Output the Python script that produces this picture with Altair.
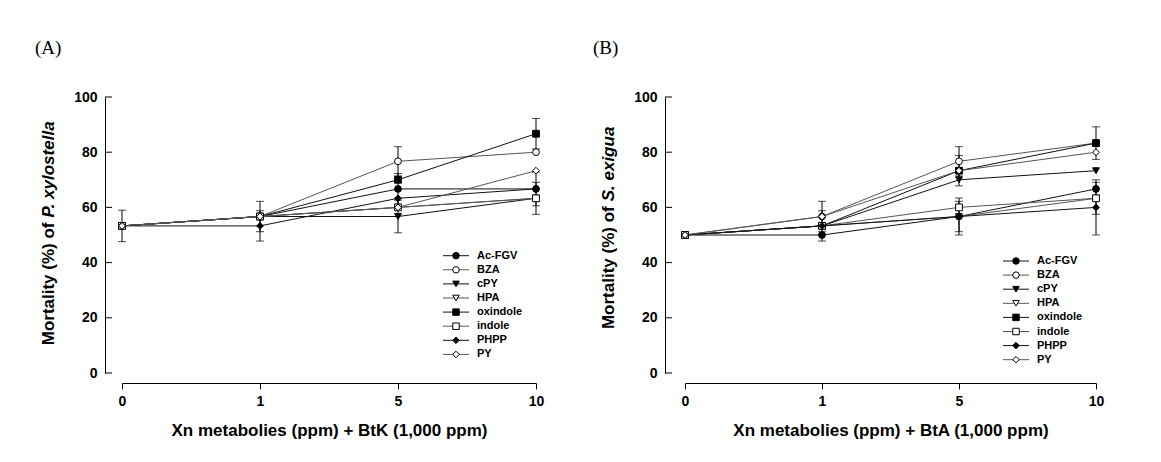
import altair as alt
import pandas as pd

# ---------------- data ----------------
doses = ["0", "1", "5", "10"]
series = ["Ac-FGV", "BZA", "cPY", "HPA", "oxindole", "indole", "PHPP", "PY"]
y_ticks = [0, 20, 40, 60, 80, 100]

# Panel A : P. xylostella + BtK
a_acfgv = [53.3, 56.7, 66.7, 66.7]
a_bza = [53.3, 56.7, 76.7, 80.0]
a_cpy = [53.3, 56.7, 56.7, 63.3]
a_hpa = [53.3, 56.7, 60.0, 63.3]
a_oxindole = [53.3, 56.7, 70.0, 86.7]
a_indole = [53.3, 56.7, 60.0, 63.3]
a_phpp = [53.3, 53.3, 63.3, 66.7]
a_py = [53.3, 56.7, 60.0, 73.3]

a_acfgv_err = [5.7, 0, 5.6, 6.1]
a_bza_err = [0, 0, 5.3, 0]
a_cpy_err = [0, 0, 5.9, 0]
a_hpa_err = [0, 0, 0, 0]
a_oxindole_err = [0, 0, 0, 5.5]
a_indole_err = [0, 0, 0, 5.8]
a_phpp_err = [0, 5.5, 0, 0]
a_py_err = [0, 5.5, 0, 0]

# Panel B : S. exigua + BtA
b_acfgv = [50.0, 50.0, 56.7, 66.7]
b_bza = [50.0, 56.7, 76.7, 83.3]
b_cpy = [50.0, 53.3, 70.0, 73.3]
b_hpa = [50.0, 53.3, 56.7, 63.3]
b_oxindole = [50.0, 53.3, 73.3, 83.3]
b_indole = [50.0, 53.3, 60.0, 63.3]
b_phpp = [50.0, 53.3, 56.7, 60.0]
b_py = [50.0, 56.7, 73.3, 80.0]

b_acfgv_err = [0, 0, 5.5, 0]
b_bza_err = [0, 5.5, 5.3, 0]
b_cpy_err = [0, 0, 0, 0]
b_hpa_err = [0, 0, 0, 0]
b_oxindole_err = [0, 5.5, 0, 5.9]
b_indole_err = [0, 0, 0, 5.8]
b_phpp_err = [0, 0, 6.7, 10.0]
b_py_err = [0, 0, 5.5, 0]

a_values = [a_acfgv, a_bza, a_cpy, a_hpa, a_oxindole, a_indole, a_phpp, a_py]
a_errors = [a_acfgv_err, a_bza_err, a_cpy_err, a_hpa_err, a_oxindole_err, a_indole_err, a_phpp_err, a_py_err]
b_values = [b_acfgv, b_bza, b_cpy, b_hpa, b_oxindole, b_indole, b_phpp, b_py]
b_errors = [b_acfgv_err, b_bza_err, b_cpy_err, b_hpa_err, b_oxindole_err, b_indole_err, b_phpp_err, b_py_err]


def long_table(values, errors):
    rows = []
    for s, vals, errs in zip(series, values, errors):
        for d, v, e in zip(doses, vals, errs):
            rows.append({"series": s, "dose": d, "y": v, "err": e})
    return pd.DataFrame(rows)


# ---------------- styles ----------------
FONT = "Liberation Sans"
shape_scale = alt.Scale(domain=series, range=["circle", "circle", "triangle-down", "triangle-down",
                                              "square", "square", "diamond", "diamond"])
fill_scale = alt.Scale(domain=series, range=["black", "white", "black", "white",
                                             "black", "white", "black", "white"])
stroke_scale = alt.Scale(domain=series, range=["#111111", "#555555", "#111111", "#555555",
                                               "#111111", "#555555", "#111111", "#555555"])


def make_panel(df, tag, x_title, ytxt1, ytxt2, width, yaxis_offset, title_x, title_junction,
               tag_x, legend_top):
    H = 276
    xs = alt.X("dose:O", sort=doses, scale=alt.Scale(type="point", padding=0),
               axis=alt.Axis(title=x_title, orient="bottom", offset=10, tickSize=6, tickWidth=1,
                             tickColor="black", domainColor="black", domainWidth=1, labelAngle=0,
                             labelFont=FONT, labelFontSize=14, labelFontWeight="bold",
                             labelColor="black", labelPadding=5, titleFont=FONT, titleFontSize=17,
                             titleFontWeight="bold", titleColor="black", titlePadding=14,
                             grid=False))
    yscale = alt.Scale(domain=[0, 100], nice=False, zero=True)
    yaxis = alt.Axis(values=y_ticks, ticks=False, offset=yaxis_offset, domainColor="black",
                     domainWidth=1, labelFont=FONT, labelFontSize=14, labelFontWeight="bold",
                     labelColor="black", labelPadding=8, title=None, grid=False)
    base = alt.Chart(df)

    lines = base.mark_line(strokeWidth=1).encode(
        x=xs, y=alt.Y("y:Q", scale=yscale, axis=yaxis),
        stroke=alt.Stroke("series:N", scale=stroke_scale, legend=None),
        detail="series:N")

    eb = base.transform_filter("datum.err > 0").transform_calculate(
        lo="datum.y - datum.err", hi="datum.y + datum.err")
    err_rule = eb.mark_rule(color="black", strokeWidth=1).encode(
        x=xs, y=alt.Y("lo:Q", scale=yscale, axis=yaxis), y2="hi:Q")
    cap_lo = eb.mark_tick(color="black", thickness=1, size=8, orient="horizontal").encode(
        x=xs, y=alt.Y("lo:Q", scale=yscale, axis=yaxis))
    cap_hi = eb.mark_tick(color="black", thickness=1, size=8, orient="horizontal").encode(
        x=xs, y=alt.Y("hi:Q", scale=yscale, axis=yaxis))

    points = base.mark_point(filled=True, size=46, opacity=1, strokeWidth=1).encode(
        x=xs, y=alt.Y("y:Q", scale=yscale, axis=yaxis),
        shape=alt.Shape("series:N", scale=shape_scale, legend=None),
        fill=alt.Fill("series:N", scale=fill_scale, legend=None),
        stroke=alt.value("black"))

    yt = alt.Chart(pd.DataFrame({"t": y_ticks})).mark_rule(color="black", strokeWidth=1).encode(
        x=alt.value(-yaxis_offset), x2=alt.value(-yaxis_offset + 7),
        y=alt.Y("t:Q", scale=yscale, axis=yaxis))

    main = alt.layer(lines, err_rule, cap_lo, cap_hi, points, yt)

    leg_df = pd.DataFrame({"series": series})
    ly = alt.Y("series:N", sort=series,
               scale=alt.Scale(type="point", range=[legend_top, legend_top + 7 * 14.1], padding=0),
               axis=None)
    leg_rule = alt.Chart(leg_df).mark_rule(strokeWidth=1).encode(
        x=alt.value(width - 93), x2=alt.value(width - 67), y=ly,
        stroke=alt.Stroke("series:N", scale=stroke_scale, legend=None))
    leg_pt = alt.Chart(leg_df).mark_point(filled=True, size=42, opacity=1, strokeWidth=1).encode(
        x=alt.value(width - 80), y=ly,
        shape=alt.Shape("series:N", scale=shape_scale, legend=None),
        fill=alt.Fill("series:N", scale=fill_scale, legend=None),
        stroke=alt.value("black"))
    leg_txt = alt.Chart(leg_df).mark_text(align="left", baseline="middle", font=FONT,
                                          fontSize=11, fontWeight="bold", color="black").encode(
        x=alt.value(width - 59), y=ly, text="series:N")

    lab_df = pd.DataFrame({"t1": [ytxt1], "t2": [ytxt2], "tag": [tag]})
    yt1 = alt.Chart(lab_df).mark_text(angle=270, align="right", baseline="middle", font=FONT,
                                      fontSize=17, fontWeight="bold", color="black").encode(
        x=alt.value(title_x), y=alt.value(title_junction), text="t1:N")
    yt2 = alt.Chart(lab_df).mark_text(angle=270, align="left", baseline="middle", font=FONT,
                                      fontSize=17, fontWeight="bold", fontStyle="italic",
                                      color="black").encode(
        x=alt.value(title_x), y=alt.value(title_junction - 5), text="t2:N")
    tg = alt.Chart(lab_df).mark_text(align="left", baseline="middle", font="Liberation Serif",
                                     fontSize=19, color="black").encode(
        x=alt.value(tag_x), y=alt.value(-49.5), text="tag:N")

    legend = alt.layer(leg_rule, leg_pt, leg_txt, yt1, yt2, tg)
    return alt.layer(main, legend).resolve_scale(y="independent").properties(width=width, height=H)


panel_a = make_panel(long_table(a_values, a_errors), "(A)",
                     "Xn metabolies (ppm) + BtK (1,000 ppm)",
                     "Mortality (%) of", "P. xylostella",
                     414, 17, -73, 125.5, -87, 158.7)
panel_b = make_panel(long_table(b_values, b_errors), "(B)",
                     "Xn metabolies (ppm) + BtA (1,000 ppm)",
                     "Mortality (%) of", "S. exigua",
                     411, 20, -76, 109.3, -92, 164.0)

chart = alt.hconcat(panel_a, panel_b, spacing=49).properties(
    padding={"left": 35, "top": 38, "right": 5, "bottom": 5},
    background="white"
).configure_view(stroke=None)

chart.save("out.html", embed_options={"renderer": "svg", "actions": False})
